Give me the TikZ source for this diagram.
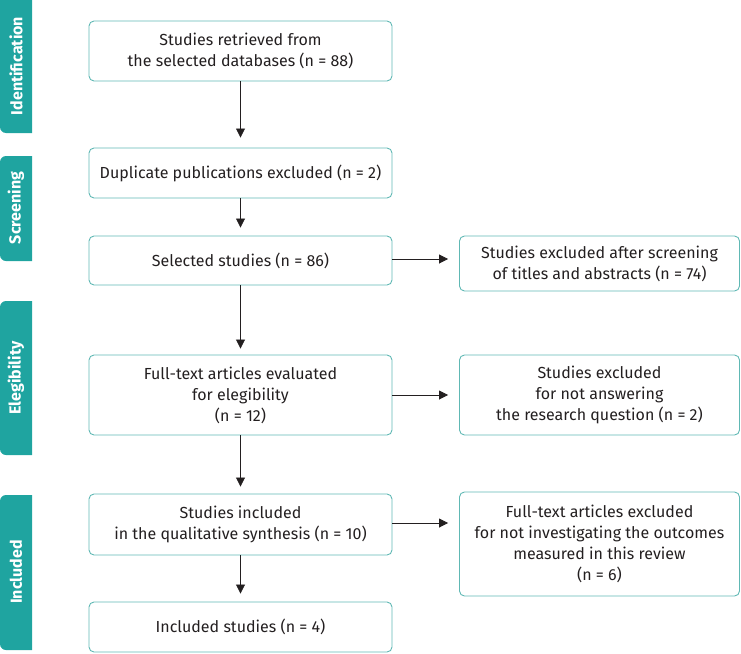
\documentclass[tikz,border=0pt]{standalone}
\usepackage{fontspec}
\setmainfont{Fira Sans}
\usetikzlibrary{calc,positioning,arrows.meta}
\definecolor{bandteal}{RGB}{31,164,160}
\definecolor{boxline}{RGB}{96,184,180}
\definecolor{ink}{RGB}{35,31,32}
\tikzset{
  flowbox/.style={draw=boxline,line width=0.9pt,rounded corners=5pt,align=center,
    text=ink,font=\fontsize{16}{21}\selectfont,inner sep=0pt},
  flowarr/.style={-{Triangle[width=9pt,length=9pt]},line width=0.8pt,ink},
  bandlabel/.style={rotate=90,text=white,font=\fontsize{16}{18}\selectfont\bfseries}
}
\begin{document}
\begin{tikzpicture}[x=1pt,y=-1pt]
\useasboundingbox (0,0) rectangle (741,653);
\fill[bandteal] (32,-10) {[rounded corners=6pt] -- (0,-10) -- (0,133)} -- (32,133) -- cycle;
\fill[bandteal] (32,156) {[rounded corners=6pt] -- (0,156) -- (0,261)} -- (32,261) -- cycle;
\fill[bandteal] (32,301) {[rounded corners=6pt] -- (0,301) -- (0,455)} -- (32,455) -- cycle;
\fill[bandteal] (32,495) {[rounded corners=6pt] -- (0,495) -- (0,650)} -- (32,650) -- cycle;
\node (lid) at (16,66) [bandlabel] {Identification};
\node (lsc) at (16,208) [bandlabel] {Screening};
\node (lel) at (16,378) [bandlabel] {Elegibility};
\node (lin) at (16,572) [bandlabel] {Included};
\node (b1) at (240.5,51) [flowbox,minimum width=303pt,minimum height=60pt]
  {Studies retrieved from\\the selected databases (n = 88)};
\node (b2) at (240.5,173) [flowbox,minimum width=303pt,minimum height=50pt]
  {Duplicate publications excluded (n = 2)};
\node (b3) at (240.5,260.5) [flowbox,minimum width=303pt,minimum height=49pt]
  {Selected studies (n = 86)};
\node (b4) at (240.5,395) [flowbox,minimum width=303pt,minimum height=80pt]
  {Full-text articles evaluated\\for elegibility\\(n = 12)};
\node (b5) at (240.5,524.5) [flowbox,minimum width=303pt,minimum height=61pt]
  {Studies included\\in the qualitative synthesis (n = 10)};
\node (b6) at (240.5,627) [flowbox,minimum width=303pt,minimum height=50pt]
  {Included studies (n = 4)};
\node (r1) at (599.5,263.5) [flowbox,minimum width=280pt,minimum height=55pt]
  {Studies excluded after screening\\of titles and abstracts (n = 74)};
\node (r2) at (599.5,395) [flowbox,minimum width=280pt,minimum height=80pt]
  {Studies excluded\\for not answering\\the research question (n = 2)};
\node (r3) at (599.5,544) [flowbox,minimum width=280pt,minimum height=104pt]
  {Full-text articles excluded\\for not investigating the outcomes\\measured in this review\\(n = 6)};
\draw[flowarr,shorten >=10pt] (b1) -- (b2);
\draw[flowarr,shorten >=8pt] (b2) -- (b3);
\draw[flowarr,shorten >=6pt] (b3) -- (b4);
\draw[flowarr,shorten >=7pt] (b4) -- (b5);
\draw[flowarr,shorten >=8pt] (b5) -- (b6);
\draw[flowarr,shorten >=11pt] ($(b3.east)+(0,-1.5)$) -- ($(b3.east -| r1.west)+(0,-1.5)$);
\draw[flowarr,shorten >=11pt] (b4.east) -- (b4.east -| r2.west);
\draw[flowarr,shorten >=11pt] ($(b5.east)+(0,-1.5)$) -- ($(b5.east -| r3.west)+(0,-1.5)$);
\end{tikzpicture}
\end{document}
